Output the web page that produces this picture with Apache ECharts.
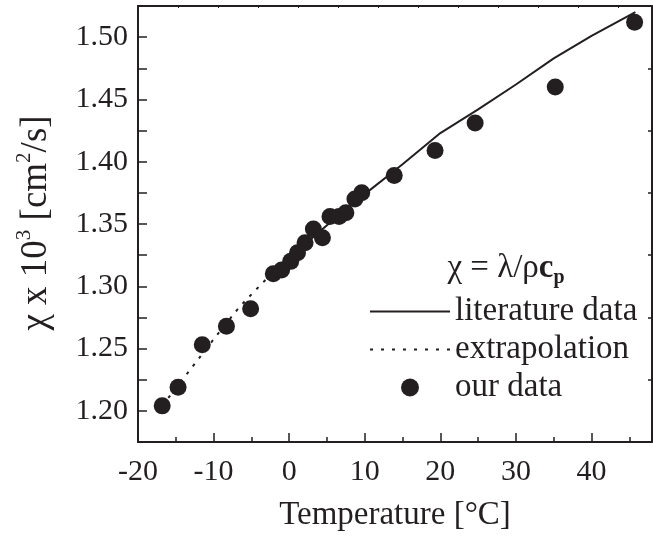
<!DOCTYPE html>
<html>
<head>
<meta charset="utf-8">
<script src="https://cdn.jsdelivr.net/npm/echarts@6/dist/echarts.min.js"></script>
<style>
html,body{margin:0;padding:0;background:#fff;}
#c{width:653px;height:537px;}
</style>
</head>
<body>
<div id="c"></div>
<script>
// measured data: temperature [°C] and diffusivity chi x 10^3 [cm^2/s]
const ourT   = [-16.8, -14.7, -11.5, -8.3, -5.1, -2.1, -1.0, 0.2, 1.1, 2.1, 3.2, 4.4, 5.4, 6.6, 7.5, 8.7, 9.6, 13.9, 19.3, 24.6, 35.2, 45.7];
const ourChi = [1.204, 1.219, 1.253, 1.268, 1.282, 1.310, 1.313, 1.320, 1.327, 1.335, 1.346, 1.339, 1.356, 1.356, 1.359, 1.370, 1.375, 1.389, 1.409, 1.431, 1.460, 1.512];
// literature data (solid line)
const litT   = [-3.0, 0, 5, 10, 15, 20, 25, 30, 35, 40, 45.8];
const litChi = [1.306, 1.323, 1.349, 1.374, 1.398, 1.423, 1.442, 1.462, 1.483, 1.501, 1.520];
// extrapolation (dotted line)
const extT   = [-16.8, -13.1, -9.8, -6.5, -3.0];
const extChi = [1.204, 1.233, 1.259, 1.284, 1.306];
// axes
const xMin = -20, xMax = 48, xStep = 10;
const yMin = 1.175, yMax = 1.525, yStep = 0.025;
const yLabelStep = 0.05;

const pairs = (a, b) => a.map((v, i) => [v, b[i]]);
const INK = '#231f20';
const FONT = '"Liberation Serif", "DejaVu Serif", serif';

// legend icons: a solid stroke and a dotted stroke
const solidIcon = 'path://M0,0L80,0L80,2L0,2Z';
let dots = '';
for (let i = 0; i < 8; i++) { dots += 'M' + (i * 11) + ',0h3v2h-3z'; }
const dottedIcon = 'path://' + dots;

const chart = echarts.init(document.getElementById('c'), null, {renderer: 'canvas'});
chart.setOption({
  animation: false,
  backgroundColor: '#fff',
  grid: {left: 138, right: 1, top: 6, bottom: 95, containLabel: false},
  xAxis: [{
    type: 'value', min: xMin, max: xMax, interval: xStep, position: 'bottom',
    axisLine: {show: true, onZero: false, lineStyle: {color: INK, width: 2}},
    axisTick: {show: true, inside: true, length: 9, lineStyle: {color: INK, width: 1.5}},
    minorTick: {show: true, splitNumber: 2, length: 5, lineStyle: {color: INK, width: 1.5}},
    splitLine: {show: false}, minorSplitLine: {show: false},
    axisLabel: {show: true, showMaxLabel: false, margin: 15, fontSize: 30, fontFamily: FONT, color: INK},
    name: 'Temperature [°C]', nameLocation: 'middle', nameGap: 57,
    nameTextStyle: {fontSize: 33, fontFamily: FONT, color: INK}
  }, {
    type: 'value', min: -1.05, max: 11.8, interval: 1, position: 'top',
    axisLine: {show: true, onZero: false, lineStyle: {color: INK, width: 2}},
    axisTick: {show: true, inside: true, length: 2, lineStyle: {color: INK, width: 1}},
    axisLabel: {show: false}, splitLine: {show: false}
  }],
  yAxis: [{
    type: 'value', min: yMin, max: yMax, interval: yStep, position: 'left',
    axisLine: {show: true, onZero: false, lineStyle: {color: INK, width: 2}},
    axisTick: {show: true, inside: true, length: 9, lineStyle: {color: INK, width: 1.5}},
    splitLine: {show: false},
    axisLabel: {
      show: true, margin: 10, fontSize: 30, fontFamily: FONT, color: INK,
      formatter: v => {
        const k = Math.round(v / yLabelStep * 1000) / 1000;
        return (Math.abs(k - Math.round(k)) < 1e-6) ? v.toFixed(2) : '';
      }
    }
  }, {
    type: 'value', min: yMin, max: yMax, interval: yLabelStep, position: 'right',
    axisLine: {show: true, onZero: false, lineStyle: {color: INK, width: 2}},
    axisTick: {show: true, inside: true, length: 4, lineStyle: {color: INK, width: 1.5}},
    axisLabel: {show: false}, splitLine: {show: false}
  }],
  legend: {
    orient: 'vertical', left: 365, top: 290,
    itemWidth: 80, itemHeight: 18, itemGap: 5,
    textStyle: {fontSize: 33, fontFamily: FONT, color: INK},
    data: [
      {name: 'literature data', icon: solidIcon},
      {name: 'extrapolation', icon: dottedIcon},
      {name: 'our data', icon: 'circle'}
    ]
  },
  series: [{
    name: 'literature data', type: 'line', data: pairs(litT, litChi),
    symbol: 'none', lineStyle: {color: INK, width: 2}, itemStyle: {color: INK}, z: 2
  }, {
    name: 'extrapolation', type: 'line', data: pairs(extT, extChi),
    symbol: 'none', lineStyle: {color: INK, width: 2, type: [3, 7]}, itemStyle: {color: INK}, z: 2
  }, {
    name: 'our data', type: 'scatter', data: pairs(ourT, ourChi),
    symbol: 'circle', symbolSize: 17, itemStyle: {color: INK, opacity: 1}, z: 3
  }],
  graphic: [{
    type: 'text', x: 36, y: 223, rotation: Math.PI / 2,
    style: {
      text: '{a|χ x 10}{s|3}{a| [cm}{s|2}{a|/s]}',
      align: 'center', verticalAlign: 'middle',
      rich: {
        a: {fontSize: 37, fontFamily: FONT, fill: INK, lineHeight: 44},
        s: {fontSize: 21, fontFamily: FONT, fill: INK, verticalAlign: 'top', lineHeight: 44}
      }
    }
  }, {
    type: 'text', x: 506, y: 268,
    style: {
      text: '{a|χ = λ/ρ}{b|c}{p|p}',
      align: 'center', verticalAlign: 'middle',
      rich: {
        a: {fontSize: 33, fontFamily: FONT, fill: INK, lineHeight: 40},
        b: {fontSize: 33, fontFamily: FONT, fontWeight: 'bold', fill: INK, lineHeight: 40},
        p: {fontSize: 20, fontFamily: FONT, fontWeight: 'bold', fill: INK, verticalAlign: 'bottom', lineHeight: 40}
      }
    }
  }]
});
</script>
</body>
</html>
